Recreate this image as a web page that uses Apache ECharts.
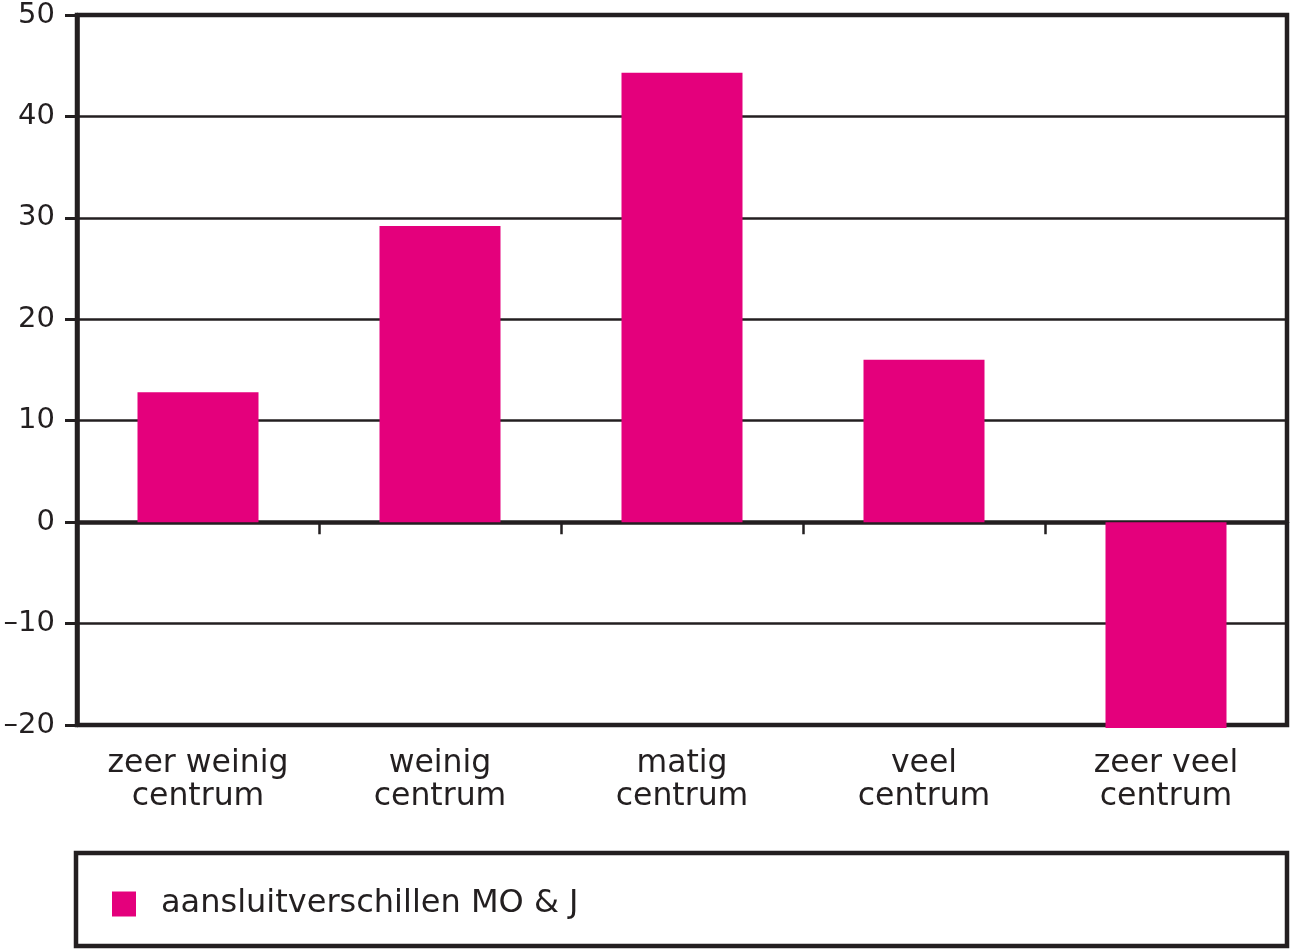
<!DOCTYPE html>
<html><head><meta charset="utf-8">
<script src="https://cdn.jsdelivr.net/npm/echarts@6/dist/echarts.min.js"></script>
<style>html,body{margin:0;padding:0;background:#fff}#c{width:1290px;height:950px}</style>
</head><body><div id="c"></div>
<script>
const categories = ['zeer weinig\ncentrum', 'weinig\ncentrum', 'matig\ncentrum', 'veel\ncentrum', 'zeer veel\ncentrum'];
const seriesName = 'aansluitverschillen MO & J';
const values = [12.8, 29.2, 44.3, 16.0, -20.3];
const yMin = -20, yMax = 50, yStep = 10;

const ink = '#231f20';
const chart = echarts.init(document.getElementById('c'));
chart.setOption({
  animation: false,
  grid: { left: 77, right: 3, top: 15, bottom: 225, show: true, borderWidth: 4.5, borderColor: ink, backgroundColor: 'transparent' },
  legend: {
    left: 112, top: 888, padding: 0, itemWidth: 24, itemHeight: 25, icon: 'rect',
    textStyle: { fontFamily: 'DejaVu Sans', fontSize: 32, color: ink, padding: [0, 0, 0, 20] },
    data: [seriesName]
  },
  graphic: [{ type: 'rect', shape: { x: 76, y: 853, width: 1211, height: 93 }, style: { fill: 'none', stroke: ink, lineWidth: 4.5 }, z: -1 }],
  xAxis: [
    { type: 'category', data: categories, position: 'bottom',
      axisLine: { show: false, onZero: false }, axisTick: { show: false },
      axisLabel: { fontFamily: 'DejaVu Sans', fontSize: 31.5, color: ink, lineHeight: 33, margin: 22, interval: 0 } },
    { type: 'category', data: categories, position: 'top',
      axisLine: { show: true, onZero: true, lineStyle: { color: ink, width: 4.5 } },
      axisTick: { show: true, inside: true, length: 12, lineStyle: { color: ink, width: 2.5 } },
      axisLabel: { show: false } }
  ],
  yAxis: {
    type: 'value', min: yMin, max: yMax, interval: yStep,
    axisLine: { show: true, lineStyle: { color: ink, width: 4.5 } },
    axisTick: { show: true, length: 12, lineStyle: { color: ink, width: 3 } },
    splitLine: { show: true, lineStyle: { color: ink, width: 2.5 } },
    axisLabel: { fontFamily: 'DejaVu Sans', fontSize: 29, color: ink, margin: 22, padding: [5, 0, 0, 0],
      formatter: v => (v < 0 ? '\u2013' + Math.abs(v) : String(v)) }
  },
  series: [{ name: seriesName, type: 'bar', data: values, barWidth: '50%', clip: false,
    itemStyle: { color: '#E4007C' } }]
});
</script></body></html>
